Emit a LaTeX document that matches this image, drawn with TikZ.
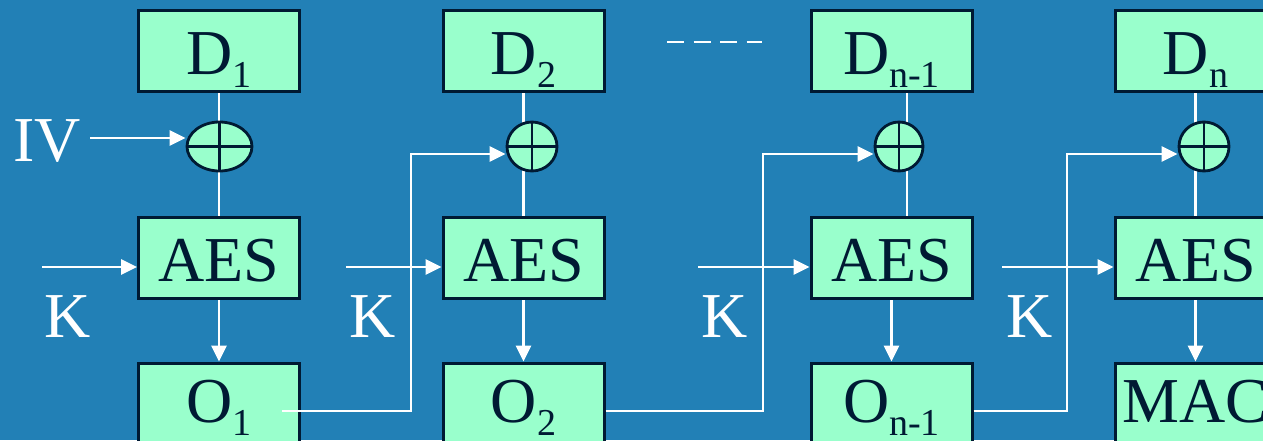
\documentclass[tikz,border=0pt]{standalone}
\usepackage{fontspec}
\setmainfont{Liberation Serif}
\usetikzlibrary{arrows.meta,shapes.geometric,backgrounds}
\definecolor{bgblue}{HTML}{2280B6}
\definecolor{mint}{HTML}{99FFCC}
\definecolor{ink}{HTML}{001A33}
\newcommand{\dfont}{\fontsize{64pt}{64pt}\selectfont}
\newcommand{\lowsub}[1]{\raisebox{-13pt}{\fontsize{38pt}{38pt}\selectfont #1}}
\begin{document}
\begin{tikzpicture}[x=1pt,y=-1pt,
  box/.style={draw=ink, line width=3pt, fill=mint, minimum width=161pt, inner sep=0pt, text=ink, font=\dfont},
  toprow/.style={box, text height=64pt, text depth=17pt},
  botrow/.style={box, text height=59pt, text depth=22pt},
  xor/.style={ellipse, draw=ink, line width=2.8pt, fill=mint, inner sep=0pt, minimum height=49pt},
  xorcross/.style={draw=ink, line width=2.8pt},
  wline/.style={draw=white, line width=2.8pt},
  arr/.style={wline, -{Triangle[length=16pt,width=15pt]}},
  lbl/.style={text=white, font=\dfont, inner sep=0pt, anchor=base}]
\useasboundingbox (0,0) rectangle (1263,440);

% column 1
\node[toprow] (D1) at (219,50.5) {D\lowsub{1}};
\node[xor, minimum width=65pt] (X1) at (219.5,146.5) {};
\node[toprow] (A1) at (219,258) {AES};
\node[botrow] (O1) at (219,403.5) {O\lowsub{1}};
% column 2
\node[toprow] (D2) at (523.5,50.5) {D\lowsub{2}};
\node[xor, minimum width=50pt] (X2) at (532,146.5) {};
\node[toprow] (A2) at (523.5,258) {AES};
\node[botrow] (O2) at (523.5,403.5) {O\lowsub{2}};
% column 3
\node[toprow] (D3) at (891.5,50.5) {D\lowsub{n-1}};
\node[xor, minimum width=48pt] (X3) at (899,146.5) {};
\node[toprow] (A3) at (891.5,258) {AES};
\node[botrow] (O3) at (891.5,403.5) {O\lowsub{n-1}};
% column 4
\node[toprow] (D4) at (1195.5,50.5) {D\lowsub{n}};
\node[xor, minimum width=50pt] (X4) at (1204,146.5) {};
\node[toprow] (A4) at (1195.5,258) {AES};
\node[botrow] (O4) at (1195.5,403.5) {MAC};

\foreach \x in {X1,X2,X3,X4}
  \draw[xorcross] (\x.north) -- (\x.south) (\x.west) -- (\x.east);

% labels
\node[lbl] (iv) at (47,161) {IV};
\node[lbl] (K1) at (68,337) {K};
\node[lbl] (K2) at (373,337) {K};
\node[lbl] (K3) at (725,337) {K};
\node[lbl] (K4) at (1030,337) {K};

\begin{scope}[on background layer]
  \fill[bgblue] (0,0) rectangle (1263,440);
  \draw[wline] (D1.south) -- (A1.north);
  \draw[wline] (D2.south) -- (A2.north);
  \draw[wline] ([xshift=15.5pt]D3.south) -- ([xshift=15.5pt]A3.north);
  \draw[wline] (D4.south) -- (A4.north);
\end{scope}

% IV input
\coordinate (ivs) at (90,138);
\draw[arr] (ivs) -- (ivs -| X1.west);

% key inputs
\coordinate (k1) at (42,267);
\coordinate (k2) at (346,267);
\coordinate (k3) at (698,267);
\coordinate (k4) at (1002,267);
\draw[arr] (k1) -- (k1 -| A1.west);
\draw[arr] (k2) -- (k2 -| A2.west);
\draw[arr] (k3) -- (k3 -| A3.west);
\draw[arr] (k4) -- (k4 -| A4.west);

% AES to outputs
\draw[arr] (A1.south) -- (O1.north);
\draw[arr] (A2.south) -- (O2.north);
\draw[arr] (A3.south) -- (O3.north);
\draw[arr] (A4.south) -- (O4.north);

% chaining
\coordinate (f1) at (282,411);
\coordinate (t1) at (411,154);
\draw[arr] (f1) -| (t1) -- (t1 -| X2.west);
\coordinate (t2) at (763,154);
\draw[arr] ([yshift=-7.5pt]O2.east) -| (t2) -- (t2 -| X3.west);
\coordinate (t3) at (1067,154);
\draw[arr] ([yshift=-7.5pt]O3.east) -| (t3) -- (t3 -| X4.west);

% dashed ellipsis
\coordinate (da) at (667,42);
\coordinate (db) at (762,42);
\draw[wline, dash pattern=on 17pt off 9.5pt] (da) -- (db);
\end{tikzpicture}
\end{document}
